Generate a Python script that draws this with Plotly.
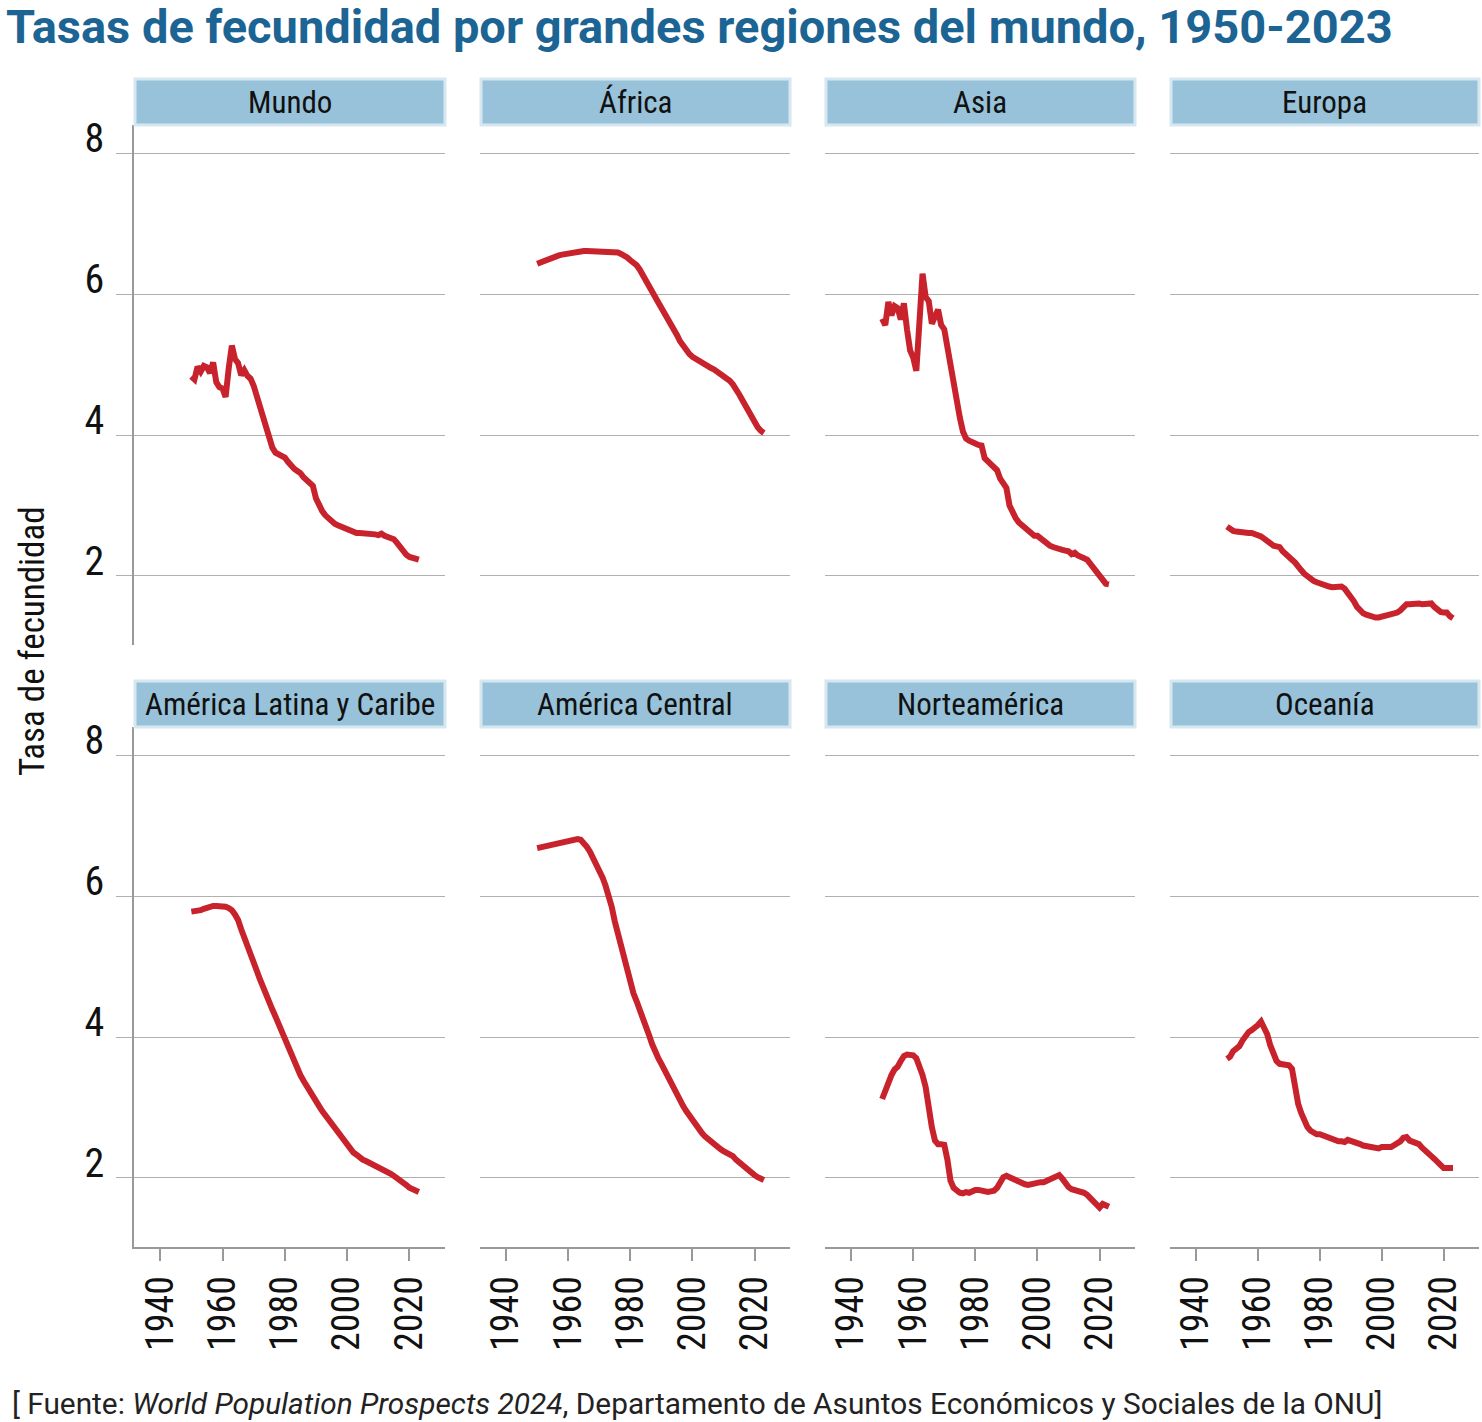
import plotly.graph_objects as go

W, H = 1482, 1422

years = list(range(1950, 2024))

regions = ["Mundo", "África", "Asia", "Europa",
           "América Latina y Caribe", "América Central", "Norteamérica", "Oceanía"]

mundo = [4.83, 4.79, 4.97, 4.90, 4.98, 4.96, 4.88, 5.03, 4.75, 4.68,
         4.66, 4.54, 4.95, 5.27, 5.08, 5.02, 4.85, 4.92, 4.84, 4.80,
         4.70, 4.55, 4.42, 4.30, 4.10, 3.95, 3.82, 3.75, 3.72, 3.70,
         3.68, 3.62, 3.55, 3.52, 3.49, 3.46, 3.40, 3.35, 3.30, 3.28,
         3.10, 3.00, 2.92, 2.86, 2.81, 2.77, 2.74, 2.72, 2.70, 2.68,
         2.66, 2.64, 2.62, 2.61, 2.61, 2.61, 2.61, 2.61, 2.60, 2.59,
         2.58, 2.60, 2.57, 2.56, 2.54, 2.52, 2.47, 2.41, 2.34, 2.30,
         2.27, 2.25, 2.24, 2.23]

africa = [6.43, 6.45, 6.47, 6.48, 6.50, 6.52, 6.53, 6.55, 6.56, 6.57,
          6.58, 6.59, 6.59, 6.60, 6.60, 6.61, 6.61, 6.61, 6.61, 6.61,
          6.61, 6.61, 6.61, 6.61, 6.61, 6.60, 6.59, 6.57, 6.55, 6.52,
          6.48, 6.45, 6.41, 6.35, 6.28, 6.20, 6.12, 6.04, 5.96, 5.88,
          5.81, 5.73, 5.65, 5.58, 5.50, 5.42, 5.33, 5.26, 5.20, 5.15,
          5.11, 5.08, 5.05, 5.02, 5.00, 4.98, 4.95, 4.93, 4.90, 4.88,
          4.85, 4.81, 4.77, 4.72, 4.66, 4.58, 4.50, 4.42, 4.32, 4.25,
          4.17, 4.11, 4.06, 4.03]

asia = [5.65, 5.56, 5.89, 5.70, 5.83, 5.80, 5.64, 5.87, 5.50, 5.20,
        5.10, 4.91, 5.60, 6.29, 5.96, 5.90, 5.58, 5.68, 5.78, 5.56,
        5.50, 5.25, 4.97, 4.70, 4.40, 4.25, 4.05, 3.95, 3.92, 3.89,
        3.88, 3.86, 3.85, 3.67, 3.62, 3.59, 3.55, 3.50, 3.38, 3.32,
        3.25, 3.00, 2.88, 2.82, 2.76, 2.72, 2.68, 2.64, 2.60, 2.57,
        2.57, 2.53, 2.49, 2.46, 2.43, 2.41, 2.39, 2.38, 2.37, 2.36,
        2.35, 2.31, 2.33, 2.29, 2.26, 2.25, 2.23, 2.17, 2.10, 2.05,
        1.98, 1.92, 1.89, 1.88]

europa = [2.70, 2.66, 2.64, 2.63, 2.62, 2.62, 2.62, 2.61, 2.61, 2.60,
          2.59, 2.56, 2.53, 2.49, 2.45, 2.43, 2.42, 2.41, 2.35, 2.30,
          2.27, 2.23, 2.19, 2.12, 2.08, 2.03, 1.99, 1.96, 1.93, 1.91,
          1.89, 1.88, 1.87, 1.85, 1.84, 1.85, 1.86, 1.85, 1.82, 1.77,
          1.71, 1.64, 1.56, 1.50, 1.47, 1.45, 1.43, 1.42, 1.41, 1.41,
          1.42, 1.42, 1.43, 1.45, 1.47, 1.48, 1.51, 1.55, 1.60, 1.60,
          1.61, 1.60, 1.61, 1.60, 1.61, 1.61, 1.61, 1.56, 1.52, 1.49,
          1.48, 1.48, 1.43, 1.40]

alc = [5.78, 5.78, 5.79, 5.80, 5.82, 5.84, 5.85, 5.86, 5.86, 5.86,
       5.86, 5.85, 5.83, 5.80, 5.74, 5.66, 5.53, 5.40, 5.28, 5.17,
       5.05, 4.94, 4.82, 4.70, 4.60, 4.49, 4.39, 4.29, 4.18, 4.07,
       3.96, 3.86, 3.75, 3.65, 3.55, 3.46, 3.38, 3.30, 3.23, 3.16,
       3.09, 3.02, 2.95, 2.89, 2.83, 2.78, 2.72, 2.65, 2.58, 2.52,
       2.46, 2.40, 2.36, 2.33, 2.29, 2.26, 2.24, 2.22, 2.20, 2.18,
       2.15, 2.13, 2.11, 2.08, 2.06, 2.03, 2.00, 1.98, 1.95, 1.90,
       1.86, 1.84, 1.82, 1.80]

am_central = [6.68, 6.69, 6.71, 6.72, 6.73, 6.73, 6.74, 6.75, 6.75, 6.76,
              6.77, 6.78, 6.80, 6.81, 6.80, 6.76, 6.70, 6.63, 6.55, 6.45,
              6.37, 6.27, 6.15, 6.02, 5.85, 5.64, 5.47, 5.32, 5.12, 4.92,
              4.76, 4.62, 4.51, 4.40, 4.30, 4.18, 4.03, 3.90, 3.78, 3.70,
              3.62, 3.53, 3.44, 3.36, 3.26, 3.17, 3.09, 3.02, 2.95, 2.88,
              2.82, 2.75, 2.69, 2.64, 2.59, 2.55, 2.51, 2.47, 2.44, 2.41,
              2.38, 2.36, 2.34, 2.31, 2.26, 2.22, 2.18, 2.15, 2.11, 2.07,
              2.04, 2.01, 1.99, 1.97]

norteamerica = [3.12, 3.24, 3.38, 3.46, 3.54, 3.58, 3.66, 3.73, 3.75, 3.75,
                3.74, 3.70, 3.60, 3.46, 3.29, 2.98, 2.72, 2.53, 2.48, 2.48,
                2.47, 2.26, 1.96, 1.86, 1.82, 1.79, 1.78, 1.80, 1.79, 1.82,
                1.83, 1.83, 1.82, 1.80, 1.80, 1.81, 1.82, 1.86, 1.93, 2.01,
                2.03, 2.01, 1.98, 1.96, 1.93, 1.92, 1.91, 1.90, 1.91, 1.93,
                1.95, 1.94, 1.94, 1.96, 1.97, 1.98, 2.02, 2.04, 1.99, 1.92,
                1.87, 1.84, 1.83, 1.82, 1.82, 1.79, 1.76, 1.71, 1.67, 1.63,
                1.58, 1.63, 1.61, 1.59]

oceania = [3.69, 3.72, 3.80, 3.83, 3.87, 3.95, 4.03, 4.07, 4.10, 4.13,
           4.17, 4.22, 4.14, 4.04, 3.88, 3.75, 3.66, 3.62, 3.62, 3.61,
           3.60, 3.55, 3.25, 3.05, 2.92, 2.80, 2.72, 2.67, 2.64, 2.62,
           2.62, 2.60, 2.59, 2.57, 2.54, 2.53, 2.52, 2.52, 2.51, 2.54,
           2.53, 2.51, 2.50, 2.48, 2.46, 2.45, 2.44, 2.43, 2.42, 2.42,
           2.44, 2.43, 2.44, 2.44, 2.46, 2.48, 2.52, 2.57, 2.58, 2.53,
           2.51, 2.49, 2.48, 2.43, 2.38, 2.35, 2.31, 2.27, 2.22, 2.18,
           2.14, 2.14, 2.15, 2.14]

series = [mundo, africa, asia, europa, alc, am_central, norteamerica, oceania]

x_ticks = [1940, 1960, 1980, 2000, 2020]
y_ticks = [2, 4, 6, 8]

title_text = "Tasas de fecundidad por grandes regiones del mundo, 1950-2023"
source_text = ("[ Fuente: <i>World Population Prospects 2024</i>, "
               "Departamento de Asuntos Económicos y Sociales de la ONU]")
y_title = "Tasa de fecundidad"

# ---- layout geometry (pixels) ----
col_px = [(134, 445), (480, 790), (825, 1135), (1170, 1479)]
row_px = [(125, 645), (727, 1247)]      # plot area top/bottom
strip_px = [(79, 125), (681, 727)]      # strip top/bottom

NARROW = "Roboto Condensed, Liberation Sans Narrow, DejaVu Sans Condensed, sans-serif"
RED = "#c8232c"
GRID = "#b0b0b0"
AXIS = "#999999"

fig = go.Figure()
layout = dict(
    width=W, height=H,
    margin=dict(l=0, r=0, t=0, b=0, autoexpand=False),
    paper_bgcolor="white", plot_bgcolor="white",
    showlegend=False,
    shapes=[], annotations=[],
)

for i, (name, vals) in enumerate(zip(regions, series)):
    r, c = divmod(i, 4)
    k = i + 1
    xa = "x" if k == 1 else f"x{k}"
    ya = "y" if k == 1 else f"y{k}"
    fig.add_trace(go.Scatter(
        x=years, y=vals, mode="lines",
        line=dict(color=RED, width=6),
        xaxis=xa, yaxis=ya, hoverinfo="skip"))
    x0, x1 = col_px[c]
    yt, yb = row_px[r]
    layout["xaxis" if k == 1 else f"xaxis{k}"] = dict(
        domain=[x0 / W, x1 / W], anchor=ya, automargin=False,
        range=[1931.6, 2031.4], showgrid=False, zeroline=False,
        tickmode="array", tickvals=x_ticks,
        showticklabels=(r == 1), ticks="outside" if r == 1 else "",
        ticklen=12, tickwidth=1.5, tickcolor=AXIS,
        showline=(r == 1), linecolor=AXIS, linewidth=1.5,
        tickangle=-90,
        tickfont=dict(family=NARROW, size=38, color="#111111"),
    )
    layout["yaxis" if k == 1 else f"yaxis{k}"] = dict(
        domain=[1 - yb / H, 1 - yt / H], anchor=xa, automargin=False,
        range=[1.02, 8.4], showgrid=True, gridcolor=GRID, gridwidth=1.3,
        zeroline=False, tickmode="array", tickvals=y_ticks,
        showticklabels=(c == 0), ticks="outside" if c == 0 else "",
        ticklen=16, tickwidth=1.2, tickcolor=GRID,
        showline=(c == 0), linecolor=AXIS, linewidth=1.5,
        ticklabelshift=-15, ticklabelstandoff=4,
        tickfont=dict(family=NARROW, size=40, color="#111111"),
    )
    # strip
    st, sb = strip_px[r]
    layout["shapes"].append(dict(
        type="rect", xref="paper", yref="paper",
        x0=(x0 + 1) / W, x1=x1 / W, y0=1 - sb / H, y1=1 - st / H,
        fillcolor="#97c2d9", line=dict(color="#d6e7f1", width=3), layer="above"))
    layout["annotations"].append(dict(
        text=name, xref="paper", yref="paper",
        x=(x0 + x1) / 2 / W, y=1 - (st + sb) / 2 / H,
        xanchor="center", yanchor="middle", showarrow=False,
        font=dict(family=NARROW, size=31, color="#111111")))

layout["annotations"].append(dict(
    text=f"<b>{title_text}</b>", xref="paper", yref="paper",
    x=4 / W, y=1 - 27 / H, xanchor="left", yanchor="middle", showarrow=False,
    font=dict(family="Roboto, sans-serif", size=47, color="#1b6494")))
layout["annotations"].append(dict(
    text=source_text, xref="paper", yref="paper",
    x=10 / W, y=1 - 1403 / H, xanchor="left", yanchor="middle", showarrow=False,
    font=dict(family="Roboto, sans-serif", size=29.8, color="#222222")))
layout["annotations"].append(dict(
    text=y_title, xref="paper", yref="paper",
    x=32 / W, y=1 - 641 / H, xanchor="center", yanchor="middle", showarrow=False,
    textangle=-90,
    font=dict(family=NARROW, size=35, color="#111111")))

fig.update_layout(**layout)
fig.write_html("out.html")
